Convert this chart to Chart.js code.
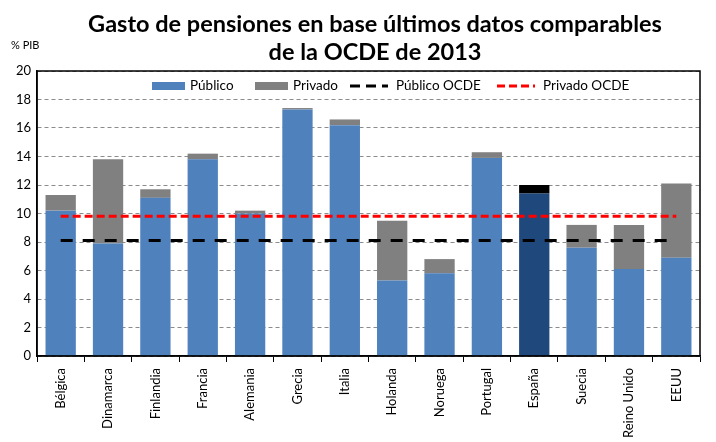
<!DOCTYPE html>
<html>
<head>
<meta charset="utf-8">
<script src="https://cdn.jsdelivr.net/npm/chart.js@4/dist/chart.umd.min.js"></script>
<style>
  html, body { margin: 0; padding: 0; background: #fff; }
  #wrap { width: 716px; height: 442px; }
</style>
</head>
<body>
<div id="wrap"><canvas id="pensionesChart"></canvas></div>
<script>
const paises = ['Bélgica', 'Dinamarca', 'Finlandia', 'Francia', 'Alemania', 'Grecia', 'Italia',
    'Holanda', 'Noruega', 'Portugal', 'España', 'Suecia', 'Reino Unido', 'EEUU'];
const publico = [10.2, 7.9, 11.1, 13.8, 10.0, 17.3, 16.2, 5.3, 5.8, 13.9, 11.4, 7.6, 6.1, 6.9];
const privado = [1.1, 5.9, 0.6, 0.4, 0.2, 0.1, 0.4, 4.2, 1.0, 0.4, 0.6, 1.6, 3.1, 5.2];
const publicoOCDE = [8.1, 8.1, 8.1, 8.1, 8.1, 8.1, 8.1, 8.1, 8.1, 8.1, 8.1, 8.1, 8.1, 8.1];
const privadoOCDE = [9.8, 9.8, 9.8, 9.8, 9.8, 9.8, 9.8, 9.8, 9.8, 9.8, 9.8, 9.8, 9.8, 9.8];
const yTicks = [0, 2, 4, 6, 8, 10, 12, 14, 16, 18, 20];

const FONT = 'Lato, "Liberation Sans", sans-serif';
const azul = '#4F81BD', gris = '#808080';
const azulEsp = '#1F497D', negroEsp = '#000000';

const colPublico = paises.map(p => p === 'España' ? azulEsp : azul);
const colPrivado = paises.map(p => p === 'España' ? negroEsp : gris);

// title, unit label, plot frame and legend drawn on the canvas
const decoPlugin = {
    id: 'deco',
    afterDraw(chart) {
        const { ctx, chartArea: a } = chart;
        ctx.save();
        ctx.fillStyle = '#000';
        ctx.textAlign = 'center';
        ctx.textBaseline = 'alphabetic';
        ctx.font = 'bold 23.5px ' + FONT;
        ctx.fillText('Gasto de pensiones en base últimos datos comparables', 375, 32);
        ctx.fillText('de la OCDE de 2013', 375, 60);
        ctx.font = '11px ' + FONT;
        ctx.textAlign = 'left';
        ctx.textBaseline = 'middle';
        ctx.fillText('% PIB', 11, 45);

        ctx.strokeStyle = '#000';
        ctx.lineWidth = 1.5;
        ctx.setLineDash([]);
        ctx.strokeRect(a.left, a.top, a.right - a.left, a.bottom - a.top);

        // legend
        const ly = 86;
        ctx.font = '13.5px ' + FONT;
        const items = [
            { x: 152, txt: 'Público', bar: azul },
            { x: 255, txt: 'Privado', bar: gris },
            { x: 350, txt: 'Público OCDE', line: '#000', dash: [10, 6] },
            { x: 497, txt: 'Privado OCDE', line: '#FF0000', dash: [8, 4] }
        ];
        items.forEach(it => {
            if (it.bar) {
                ctx.fillStyle = it.bar;
                ctx.fillRect(it.x, ly - 4, 33, 8);
            } else {
                ctx.strokeStyle = it.line;
                ctx.lineWidth = 3;
                ctx.setLineDash(it.dash);
                ctx.beginPath();
                ctx.moveTo(it.x, ly);
                ctx.lineTo(it.x + 38, ly);
                ctx.stroke();
                ctx.setLineDash([]);
            }
            ctx.fillStyle = '#000';
            ctx.fillText(it.txt, it.x + (it.bar ? 38 : 46), ly);
        });
        ctx.restore();
    }
};

new Chart(document.getElementById('pensionesChart'), {
    type: 'bar',
    data: {
        labels: paises,
        datasets: [
            {
                type: 'line', label: 'Público OCDE', data: publicoOCDE, stack: 'l1', order: 0,
                borderColor: '#000', borderWidth: 3, borderDash: [12, 10], pointRadius: 0, fill: false
            },
            {
                type: 'line', label: 'Privado OCDE', data: privadoOCDE, stack: 'l2', order: 0,
                borderColor: '#FF0000', borderWidth: 3, borderDash: [8, 4], pointRadius: 0, fill: false
            },
            {
                label: 'Público', data: publico, stack: 'b', order: 1,
                backgroundColor: colPublico, barPercentage: 0.64, categoryPercentage: 1
            },
            {
                label: 'Privado', data: privado, stack: 'b', order: 1,
                backgroundColor: colPrivado, barPercentage: 0.64, categoryPercentage: 1
            }
        ]
    },
    options: {
        responsive: true,
        maintainAspectRatio: false,
        animation: false,
        layout: { padding: { top: 71, right: 16, left: 0, bottom: 0 } },
        plugins: {
            legend: { display: false },
            tooltip: { enabled: false }
        },
        scales: {
            x: {
                stacked: true,
                afterFit: s => { s.height = 86; },
                grid: { offset: true, drawOnChartArea: false, drawTicks: true, tickLength: 6, color: '#000' },
                border: { color: '#000', width: 1.5 },
                ticks: {
                    minRotation: 90, maxRotation: 90, autoSkip: false, padding: 6,
                    color: '#000', font: { family: FONT, size: 13 }
                }
            },
            y: {
                stacked: true,
                min: 0, max: 20,
                afterFit: s => { s.width = 37; },
                afterBuildTicks: s => { s.ticks = yTicks.map(v => ({ value: v })); },
                grid: { color: '#8c8c8c', lineWidth: 1, drawTicks: false },
                // in v4 border.dash dashes the grid lines
                border: { color: '#000', width: 1.5, dash: [4, 3] },
                ticks: { padding: 6, color: '#000', font: { family: FONT, size: 13 } }
            }
        }
    },
    plugins: [decoPlugin]
});
</script>
</body>
</html>
